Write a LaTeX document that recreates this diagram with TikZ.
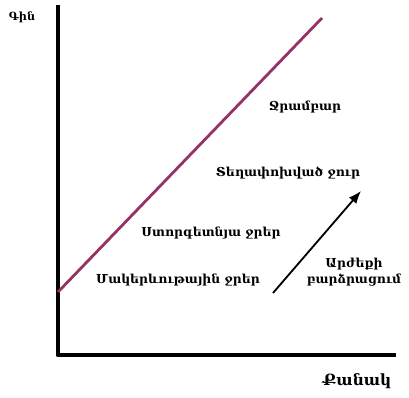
\documentclass[tikz,border=0pt]{standalone}
\usepackage{fontspec}
\setmainfont{DejaVu Serif}
\usepackage{xcolor}
\usetikzlibrary{arrows.meta, positioning}

\definecolor{supply}{RGB}{150,50,100}

\begin{document}
\begin{tikzpicture}[x=0.025cm, y=-0.025cm, every node/.style={font=\bfseries\fontsize{8.8}{11}\selectfont}]
    \useasboundingbox (0,0) rectangle (409,398);
    % axes
    \coordinate (top) at (58,5);
    \coordinate (origin) at (58,355);
    \coordinate (right) at (396,355);
    \draw[line width=3.5pt, line join=round] (top) -- (origin) -- (right);
    \node[font=\bfseries\fontsize{8}{10}\selectfont] (price) at (22,17) {Գին};
    \node[font=\bfseries\fontsize{11}{13}\selectfont] (qty) at (357,381) {Քանակ};
    % supply line
    \coordinate (s0) at (58,292);
    \coordinate (s1) at (322,18);
    \draw[supply, line width=2pt] (s0) -- (s1);
    \node (res) at (305,107) {Ջրամբար};
    \node (moved) at (288,173) {Տեղափոխված ջուր};
    \node (ground) at (211,233) {Ստորգետնյա ջրեր};
    \node (surf) at (178,280) {Մակերևութային ջրեր};
    % cost arrow
    \coordinate (c0) at (273,293);
    \coordinate (c1) at (361,191);
    \draw[-{Latex[length=9pt,width=7pt]}, line width=1.3pt] (c0) -- (c1);
    \node[align=center, font=\bfseries\fontsize{8.8}{11.5}\selectfont] (cost) at (354,272) {Արժեքի\\բարձրացում};
\end{tikzpicture}
\end{document}
